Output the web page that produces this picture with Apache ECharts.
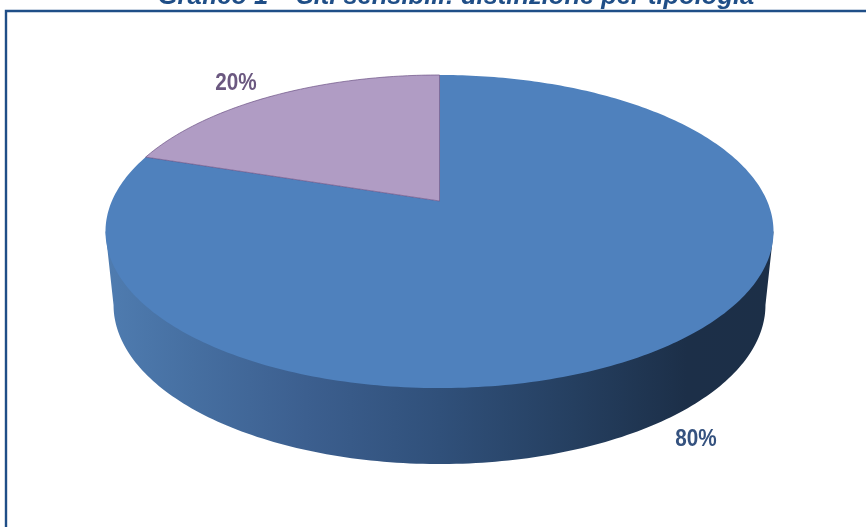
<!DOCTYPE html>
<html>
<head>
<meta charset="utf-8">
<style>html,body{margin:0;padding:0;background:#fff}#c{width:866px;height:527px}</style>
<script src="https://cdn.jsdelivr.net/npm/echarts@6/dist/echarts.min.js"></script>
</head>
<body>
<div id="c"></div>
<script>
const titleText = 'Grafico 1 – Siti sensibili: distinzione per tipologia';
const categories = ['Tipologia A', 'Tipologia B'];
const values = [80, 20];
const labels = ['80%', '20%'];

// Perspective disc layout (pixels)
const TOP = {cx: 439.5, cy: 201, a: 327.6, b: 150.6, p: 0.195};
const BASE = {cx: 439.5, cy: 274, a: 319.7, b: 153, p: 0.195};
const LABEL_POS = [[696, 440], [236, 84]];
const SLICE_FILL = ['#4f81bd', '#b09cc4'];
const LABEL_FILL = ['#35527f', '#6b5880'];
const total = values.reduce((s, v) => s + v, 0);

function project(d, ang) {
  const u = Math.sin(ang), v = Math.cos(ang), w = 1 + d.p * v;
  return [d.cx + d.a * u / w, d.cy - d.b * v / w];
}
function arc(d, a0, a1) {
  const n = Math.max(8, Math.round(Math.abs(a1 - a0) * 60)), pts = [];
  for (let i = 0; i <= n; i++) pts.push(project(d, a0 + (a1 - a0) * i / n));
  return pts;
}
function widest(d, sign) {
  // angle at which the projected rim reaches its widest x
  return sign * Math.acos(-d.p);
}
function renderSlice(params, api) {
  const idx = params.dataIndex;
  let start = 0;
  for (let i = 0; i < idx; i++) start += values[i];
  const a0 = start / total * 2 * Math.PI;
  const a1 = (start + api.value(1)) / total * 2 * Math.PI;
  const children = [];
  if (idx === 0) {
    const rim = arc(BASE, widest(BASE, 1), 2 * Math.PI + widest(BASE, -1));
    const side = [project(TOP, widest(TOP, 1))].concat(rim, [project(TOP, widest(TOP, -1))]);
    children.push({
      type: 'polygon',
      shape: {points: side},
      style: {
        fill: new echarts.graphic.LinearGradient(0, 0, 1, 0, [
          {offset: 0, color: '#4f7cb0'},
          {offset: 0.13, color: '#466fa1'},
          {offset: 0.3, color: '#3c5f8f'},
          {offset: 0.5, color: '#30507a'},
          {offset: 0.7, color: '#253f60'},
          {offset: 0.87, color: '#1c2f48'},
          {offset: 1, color: '#1c2f47'}
        ])
      }
    });
  }
  const face = [[TOP.cx, TOP.cy]].concat(arc(TOP, a0, a1));
  children.push({
    type: 'polygon',
    shape: {points: face},
    style: idx === 0 ? {fill: SLICE_FILL[idx]}
                     : {fill: SLICE_FILL[idx], stroke: 'rgba(105,78,130,0.75)', lineWidth: 0.9, lineJoin: 'round'}
  });
  children.push({
    type: 'text',
    x: LABEL_POS[idx][0], y: LABEL_POS[idx][1], scaleX: 0.9,
    style: {
      x: 0, y: 0,
      text: labels[idx], fill: LABEL_FILL[idx],
      font: 'bold 23px "Liberation Sans"',
      align: 'center', verticalAlign: 'middle'
    }
  });
  return {type: 'group', children};
}

const chart = echarts.init(document.getElementById('c'), null, {renderer: 'canvas'});
chart.setOption({
  animation: false,
  backgroundColor: '#fff',
  title: {
    text: titleText, left: 451, top: -21, textAlign: 'center',
    textStyle: {fontFamily: 'Liberation Sans', fontWeight: 'bold', fontStyle: 'italic', fontSize: 25.5, color: '#1f4e87'}
  },
  graphic: [{
    type: 'rect', silent: true,
    shape: {x: 6, y: 11, width: 1000, height: 700},
    style: {fill: 'none', stroke: '#1f4e87', lineWidth: 2.4}
  }],
  series: [{
    type: 'custom',
    coordinateSystem: 'none',
    renderItem: renderSlice,
    encode: {itemName: 0, value: 1},
    data: categories.map((c, i) => [c, values[i]])
  }]
});
</script>
</body>
</html>
